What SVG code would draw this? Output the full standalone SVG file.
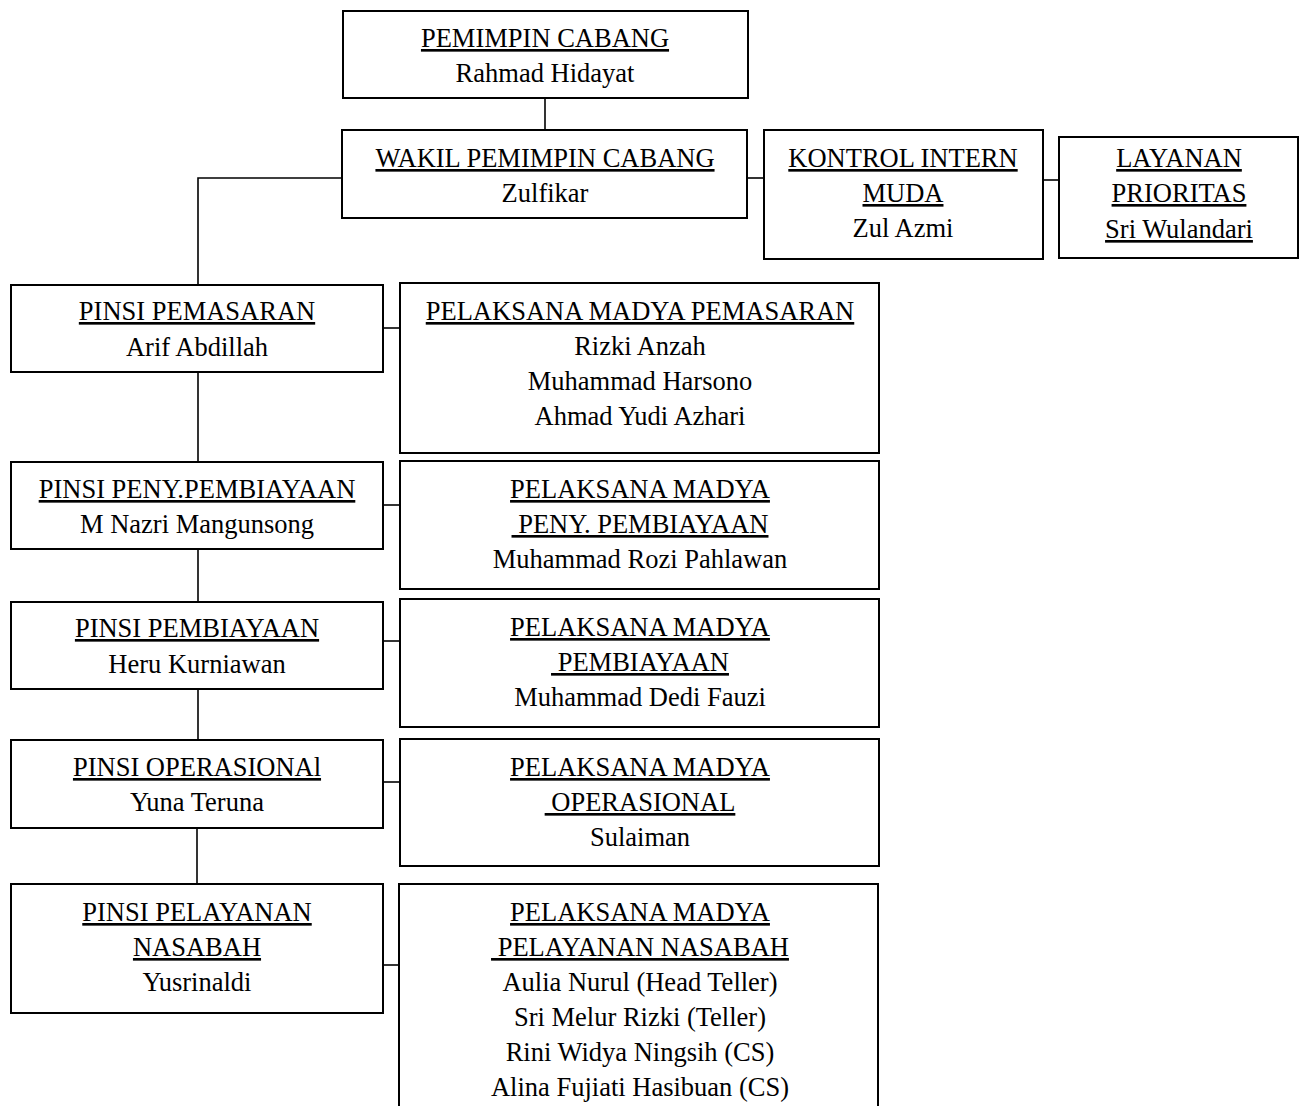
<svg xmlns="http://www.w3.org/2000/svg" width="1304" height="1106" viewBox="0 0 1304 1106">
<style>
.b{fill:#fff;stroke:#000;stroke-width:2}
.c{fill:none;stroke:#000;stroke-width:1.6}
text{font-family:"Liberation Serif","Times New Roman",serif;font-size:26.5px;fill:#000;text-anchor:middle;white-space:pre}
.u{text-decoration:underline}
</style>
<rect width="1304" height="1106" fill="#fff"/>
<g id="connectors">
<path class="c" d="M545 98V130"/>
<path class="c" d="M747 178H764"/>
<path class="c" d="M1043 180H1059"/>
<path class="c" d="M342 178H198V285"/>
<path class="c" d="M383 328H400"/>
<path class="c" d="M198 372V462"/>
<path class="c" d="M383 505H400"/>
<path class="c" d="M198 549V602"/>
<path class="c" d="M383 641H400"/>
<path class="c" d="M198 689V740"/>
<path class="c" d="M383 782H400"/>
<path class="c" d="M197 828V884"/>
<path class="c" d="M383 965H399"/>
</g>
<g id="pemimpin">
<rect class="b" x="343" y="11" width="405" height="87"/>
<text class="u" x="545" y="47">PEMIMPIN CABANG</text>
<text x="545" y="82">Rahmad Hidayat</text>
</g>
<g id="wakil">
<rect class="b" x="342" y="130" width="405" height="88"/>
<text class="u" x="545" y="167">WAKIL PEMIMPIN CABANG</text>
<text x="545" y="202">Zulfikar</text>
</g>
<g id="kontrol">
<rect class="b" x="764" y="130" width="279" height="129"/>
<text class="u" x="903" y="167">KONTROL INTERN</text>
<text class="u" x="903" y="202">MUDA</text>
<text x="903" y="237">Zul Azmi</text>
</g>
<g id="layanan">
<rect class="b" x="1059" y="137" width="239" height="121"/>
<text class="u" x="1179" y="167">LAYANAN</text>
<text class="u" x="1179" y="202">PRIORITAS</text>
<text class="u" x="1179" y="238">Sri Wulandari</text>
</g>
<g id="pinsi-pemasaran">
<rect class="b" x="11" y="285" width="372" height="87"/>
<text class="u" x="197" y="320">PINSI PEMASARAN</text>
<text x="197" y="356">Arif Abdillah</text>
</g>
<g id="pm-pemasaran">
<rect class="b" x="400" y="283" width="479" height="170"/>
<text class="u" x="640" y="320">PELAKSANA MADYA PEMASARAN</text>
<text x="640" y="355">Rizki Anzah</text>
<text x="640" y="390">Muhammad Harsono</text>
<text x="640" y="425">Ahmad Yudi Azhari</text>
</g>
<g id="pinsi-peny">
<rect class="b" x="11" y="462" width="372" height="87"/>
<text class="u" x="197" y="498">PINSI PENY.PEMBIAYAAN</text>
<text x="197" y="533">M Nazri Mangunsong</text>
</g>
<g id="pm-peny">
<rect class="b" x="400" y="461" width="479" height="128"/>
<text class="u" x="640" y="498">PELAKSANA MADYA</text>
<text class="u" x="640" y="533"> PENY. PEMBIAYAAN</text>
<text x="640" y="568">Muhammad Rozi Pahlawan</text>
</g>
<g id="pinsi-pembiayaan">
<rect class="b" x="11" y="602" width="372" height="87"/>
<text class="u" x="197" y="637">PINSI PEMBIAYAAN</text>
<text x="197" y="673">Heru Kurniawan</text>
</g>
<g id="pm-pembiayaan">
<rect class="b" x="400" y="599" width="479" height="128"/>
<text class="u" x="640" y="636">PELAKSANA MADYA</text>
<text class="u" x="640" y="671"> PEMBIAYAAN</text>
<text x="640" y="706">Muhammad Dedi Fauzi</text>
</g>
<g id="pinsi-operasional">
<rect class="b" x="11" y="740" width="372" height="88"/>
<text class="u" x="197" y="776">PINSI OPERASIONAl</text>
<text x="197" y="811">Yuna Teruna</text>
</g>
<g id="pm-operasional">
<rect class="b" x="400" y="739" width="479" height="127"/>
<text class="u" x="640" y="776">PELAKSANA MADYA</text>
<text class="u" x="640" y="811"> OPERASIONAL</text>
<text x="640" y="846">Sulaiman</text>
</g>
<g id="pinsi-pelayanan">
<rect class="b" x="11" y="884" width="372" height="129"/>
<text class="u" x="197" y="921">PINSI PELAYANAN</text>
<text class="u" x="197" y="956">NASABAH</text>
<text x="197" y="991">Yusrinaldi</text>
</g>
<g id="pm-pelayanan">
<path class="b" d="M399 1107V884H878V1107"/>
<text class="u" x="640" y="921">PELAKSANA MADYA</text>
<text class="u" x="640" y="956"> PELAYANAN NASABAH</text>
<text x="640" y="991">Aulia Nurul (Head Teller)</text>
<text x="640" y="1026">Sri Melur Rizki (Teller)</text>
<text x="640" y="1061">Rini Widya Ningsih (CS)</text>
<text x="640" y="1096">Alina Fujiati Hasibuan (CS)</text>
</g>
</svg>
